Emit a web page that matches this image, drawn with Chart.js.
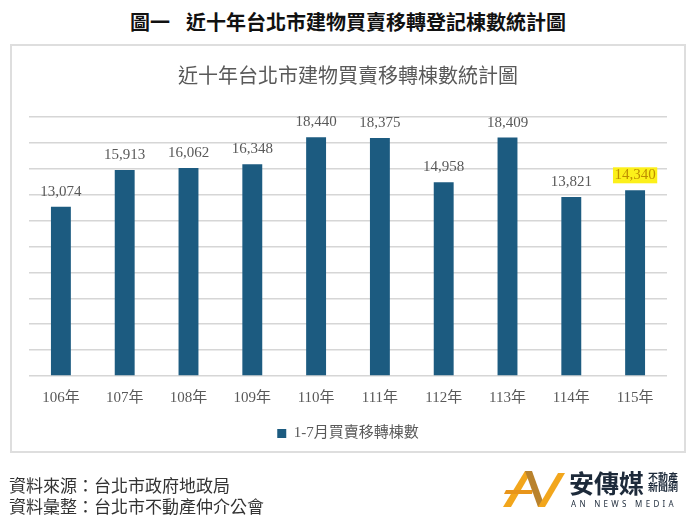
<!DOCTYPE html>
<html lang="zh-Hant">
<head>
<meta charset="UTF-8">
<title>近十年台北市建物買賣移轉登記棟數統計圖</title>
<script src="https://cdn.jsdelivr.net/npm/chart.js"></script>
<style>
    body {
        margin: 0;
        background: #fff;
        font-family: 'Noto Sans CJK TC', sans-serif;
    }

    .page {
        position: relative;
        width: 696px;
        height: 522px;
        overflow: hidden;
    }

    .heading {
        position: absolute;
        top: 7px;
        left: 0;
        width: 696px;
        text-align: center;
        font-size: 20px;
        font-weight: bold;
        line-height: 30px;
        color: #111;
    }

    .heading span {
        margin-left: 16px;
    }

    /* light grey frame round the chart */
    .frame {
        position: absolute;
        left: 10px;
        top: 44px;
        width: 672px;
        height: 405px;
        border: 2px solid #dedede;
    }

    #transferChart {
        position: absolute;
        left: 0;
        top: 0;
    }

    .source {
        position: absolute;
        left: 9px;
        top: 474px;
        font-size: 17px;
        line-height: 21px;
        color: #333;
    }

    .logo-mark {
        position: absolute;
        left: 503px;
        top: 468px;
    }

    .logo-name {
        position: absolute;
        left: 569px;
        top: 468px;
        font-size: 25px;
        font-weight: bold;
        line-height: 28px;
        color: #1d2a3a;
    }

    .logo-sub {
        position: absolute;
        left: 648px;
        top: 472px;
        font-size: 10px;
        font-weight: bold;
        line-height: 10px;
        color: #1d2a3a;
    }

    .logo-en {
        position: absolute;
        left: 571px;
        top: 498px;
        font-family: 'Noto Sans', sans-serif;
        font-size: 8px;
        letter-spacing: 3.3px;
        color: #1d2a3a;
    }
</style>
</head>

<body>
<div class="page">
    <div class="heading">圖一<span>近十年台北市建物買賣移轉登記棟數統計圖</span></div>
    <div class="frame"></div>
    <canvas id="transferChart" width="696" height="522"></canvas>

    <div class="source">資料來源：台北市政府地政局<br>資料彙整：台北市不動產仲介公會</div>

    <svg class="logo-mark" width="62" height="42" viewBox="0 0 62 42">
        <polygon points="0,39 22,3 29,3 8,39" fill="#f2a61c"/>
        <polygon points="3,22 30,22 29,26 1,26" fill="#e8951a"/>
        <polygon points="22,3 29,3 42,39 35,39" fill="#b9822c"/>
        <polygon points="35,39 55,5 62,5 42,39" fill="#f2a61c"/>
    </svg>
    <div class="logo-name">安傳媒</div>
    <div class="logo-sub">不動產<br>新聞網</div>
    <div class="logo-en">AN NEWS MEDIA</div>
</div>

<script>
    // data
    const years = ['106年', '107年', '108年', '109年', '110年', '111年', '112年', '113年', '114年', '115年'];
    const transfers = [13074, 15913, 16062, 16348, 18440, 18375, 14958, 18409, 13821, 14340];
    const seriesName = '1-7月買賣移轉棟數';
    const yMin = 0;
    const yMax = 20000;
    const yStep = 2000;
    const highlightIndex = 9;

    const barColor = '#1c5b80';
    const textGrey = '#595959';
    const serifFont = '"Liberation Serif", "Noto Sans CJK TC", serif';

    // numbers above the bars, last one marked in yellow
    const valueLabels = {
        id: 'valueLabels',
        afterDatasetsDraw(chart) {
            const ctx = chart.ctx;
            const meta = chart.getDatasetMeta(0);
            ctx.save();
            ctx.font = '15px ' + serifFont;
            ctx.textAlign = 'center';
            ctx.textBaseline = 'middle';
            meta.data.forEach((bar, i) => {
                const text = transfers[i].toLocaleString('en-US');
                const y = bar.y - 15;
                if (i === highlightIndex) {
                    const w = ctx.measureText(text).width + 3;
                    ctx.fillStyle = '#fcf01a';
                    ctx.fillRect(bar.x - w / 2, y - 8, w, 16);
                    ctx.fillStyle = '#bf8f00';
                } else {
                    ctx.fillStyle = textGrey;
                }
                ctx.fillText(text, bar.x, y);
            });
            ctx.restore();
        }
    };

    const ctx = document.getElementById('transferChart').getContext('2d');
    new Chart(ctx, {
        type: 'bar',
        data: {
            labels: years,
            datasets: [{
                label: seriesName,
                data: transfers,
                backgroundColor: barColor,
                barPercentage: 0.39,
                categoryPercentage: 0.8
            }]
        },
        options: {
            responsive: false,
            animation: false,
            layout: {
                padding: { left: 29, right: 29, top: 63, bottom: 71 }
            },
            plugins: {
                title: {
                    display: true,
                    text: '近十年台北市建物買賣移轉棟數統計圖',
                    color: textGrey,
                    font: { family: '"Noto Sans CJK TC", sans-serif', size: 20, weight: 'normal' },
                    padding: { top: 0, bottom: 30 }
                },
                legend: {
                    position: 'bottom',
                    labels: {
                        color: textGrey,
                        boxWidth: 9,
                        boxHeight: 9,
                        font: { family: serifFont, size: 15 }
                    }
                },
                tooltip: { enabled: false }
            },
            scales: {
                x: {
                    grid: { display: false, drawTicks: false },
                    border: { display: false },
                    ticks: {
                        color: textGrey,
                        padding: 13,
                        font: { family: serifFont, size: 15 }
                    },
                    afterFit(scale) {
                        scale.height = 40;
                    }
                },
                y: {
                    min: yMin,
                    max: yMax,
                    grid: { color: '#d6d6d6', lineWidth: 1.5, drawTicks: false },
                    border: { display: false },
                    ticks: { display: false, stepSize: yStep },
                    afterFit(scale) {
                        scale.width = 0;
                    }
                }
            }
        },
        plugins: [valueLabels]
    });
</script>
</body>

</html>
